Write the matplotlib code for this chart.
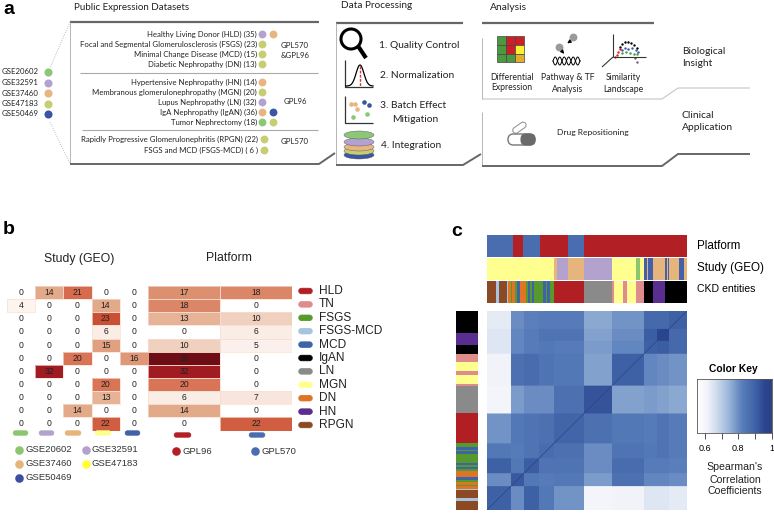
import matplotlib
matplotlib.use('Agg')
import matplotlib.pyplot as plt
import matplotlib.patches as mpatches
from matplotlib.colors import LinearSegmentedColormap, ListedColormap
import numpy as np

W, H = 774, 514

# panel a
gse_ids = ["GSE20602", "GSE32591", "GSE37460", "GSE47183", "GSE50469"]
gse_colors = ["#8cc775", "#b3a2d1", "#e8b47f", "#c6cd72", "#3a55a4"]
group_rows = [
    ("Healthy Living Donor (HLD) (35)", [1, 2]),
    ("Focal and Segmental Glomerulosclerosis (FSGS) (23)", [3]),
    ("Minimal Change Disease (MCD) (15)", [3]),
    ("Diabetic Nephropathy (DN) (13)", [3]),
    ("Hypertensive Nephropathy (HN) (14)", [2]),
    ("Membranous glomerulonephropathy (MGN) (20)", [3]),
    ("Lupus Nephropathy (LN) (32)", [1]),
    ("IgA Nephropathy (IgAN) (36)", [2, 4]),
    ("Tumor Nephrectomy (18)", [0, 3]),
    ("Rapidly Progressive Glomerulonephritis (RPGN) (22)", [3]),
    ("FSGS and MCD (FSGS-MCD) ( 6 )", [3]),
]

# panel b
entities = ["HLD", "TN", "FSGS", "FSGS-MCD", "MCD", "IgAN", "LN", "MGN", "DN", "HN", "RPGN"]
entity_colors = ["#b11f24", "#df8c8c", "#579a2c", "#a6c4e0", "#3f63a8", "#000000",
                 "#8a8a8a", "#ffff8f", "#de7424", "#5a2d91", "#8b4a24"]
study_counts = np.array([
    [0, 14, 21, 0, 0],
    [4, 0, 0, 14, 0],
    [0, 0, 0, 23, 0],
    [0, 0, 0, 6, 0],
    [0, 0, 0, 15, 0],
    [0, 0, 20, 0, 16],
    [0, 32, 0, 0, 0],
    [0, 0, 0, 20, 0],
    [0, 0, 0, 13, 0],
    [0, 0, 14, 0, 0],
    [0, 0, 0, 22, 0],
])
platform_counts = np.array([
    [17, 18], [18, 0], [13, 10], [0, 6], [10, 5], [36, 0],
    [32, 0], [20, 0], [6, 7], [14, 0], [0, 22],
])
study_colors = ["#8cc56f", "#b3a2cd", "#e5b57c", "#feff8e", "#4360a8"]
platforms = ["GPL96", "GPL570"]
platform_colors = ["#b21f24", "#4a6db0"]

# panel c: sample annotations, left to right, as runs of (category, n samples)
platform_run = [1, 0, 1, 0, 1, 0]
platform_n = [26, 10, 17, 28, 16, 103]
study_run = [3, 2, 1, 2, 1, 3, 0, 0, 3, 4, 2, 4, 2, 4, 2, 4, 2, 4, 2]
study_n = [67, 3, 11, 16, 28, 24, 1, 3, 4, 3, 1, 5, 12, 2, 1, 1, 10, 5, 3]
ckd_run = ["RPGN", "FSGS-MCD", "RPGN", "FSGS-MCD", "DN", "FSGS", "DN", "FSGS", "MCD", "DN",
           "FSGS", "MCD", "FSGS", "MCD", "FSGS", "MCD", "FSGS", "MCD", "FSGS", "HLD", "LN",
           "TN", "MGN", "TN", "MGN", "TN", "IgAN", "HN", "IgAN"]
ckd_n = [9, 3, 8, 1, 3, 1, 3, 2, 3, 6, 2, 2, 2, 2, 9, 3, 1, 3, 4, 30, 28, 2, 9, 4, 9, 8, 9, 12, 22]

# sample clusters along the correlation matrix and their mean correlations
cluster_n = [24, 13, 15, 15, 30, 28, 32, 13, 12, 18]
cluster_corr = np.array([
    [.90, .80, .90, .84, .79, .60, .61, .64, .64, .63],
    [.80, .92, .84, .83, .84, .78, .86, .81, .81, .80],
    [.90, .84, .91, .85, .85, .80, .87, .83, .83, .82],
    [.84, .83, .85, .87, .86, .80, .85, .84, .85, .83],
    [.79, .84, .85, .86, .89, .86, .84, .83, .85, .83],
    [.60, .78, .80, .80, .86, .93, .77, .78, .77, .76],
    [.61, .86, .87, .85, .84, .77, .90, .81, .80, .79],
    [.64, .81, .83, .84, .83, .78, .81, .90, .91, .88],
    [.64, .81, .83, .85, .85, .77, .80, .91, .96, .88],
    [.63, .80, .82, .83, .83, .76, .79, .88, .88, .90],
])
key_ticks = [0.6, 0.7, 0.8, 0.9, 1.0]

fig = plt.figure(figsize=(W / 100, H / 100), dpi=100)
ax = fig.add_axes([0, 0, 1, 1])
ax.set_xlim(0, W)
ax.set_ylim(H, 0)
ax.axis("off")
ax.set_zorder(5)


def px_axes(x0, y0, x1, y1):
    a = fig.add_axes([x0 / W, 1 - y1 / H, (x1 - x0) / W, (y1 - y0) / H])
    a.set_xticks([])
    a.set_yticks([])
    for s in a.spines.values():
        s.set_visible(False)
    return a


def label(x, y, s, size=6.0, ha="left", family="Lato", color="#222222", **kw):
    ax.text(x, y, s, fontsize=size, ha=ha, va="center", family=family, color=color, **kw)


def path(xs, ys, color="#666666", lw=1.6, **kw):
    ax.plot(xs, ys, color=color, lw=lw, solid_capstyle="butt", **kw)


def rounded_bar(x0, x1, y, color, h=4.4):
    ax.add_patch(mpatches.FancyBboxPatch((x0 + h / 2, y - h / 2), x1 - x0 - h, h,
                                         boxstyle=f"round,pad=0,rounding_size={h / 2}",
                                         fc=color, ec=color, lw=0.6))


# ---- panel letters
sans = "Liberation Sans"
label(3, 9, "a", size=14, family=sans, color="black", fontweight="bold")
label(3, 230, "b", size=14, family=sans, color="black", fontweight="bold")
label(451, 231, "c", size=14, family=sans, color="black", fontweight="bold")

# ---- panel a, datasets
label(74, 7, "Public Expression Datasets", size=7.0)
for i, (gid, col) in enumerate(zip(gse_ids, gse_colors)):
    y = 72 + i * 10.5
    label(2, y, gid, size=5.6)
    ax.scatter(48, y, s=34, color=col, lw=0)

path([70, 319], [22, 22], lw=1.6)
path([70, 70], [22, 164], color="#b5b5b5", lw=0.7)
path([70, 319, 335], [164, 164, 153], lw=1.4)
path([80, 318], [73, 73], color="#aaaaaa", lw=0.8)
path([82, 318], [130, 130], color="#aaaaaa", lw=0.8)
ax.plot([70, 50], [22, 68], color="#aaaaaa", lw=0.6, ls=":")
ax.plot([50, 70], [122, 164], color="#aaaaaa", lw=0.6, ls=":")

row_y = [34, 44, 54, 64, 82, 92, 102, 112, 122, 139, 150]
for (txt, dots), y in zip(group_rows, row_y):
    right = 258 if y > 130 else 257
    label(right, y, txt, size=5.55, ha="right")
    x0 = 264 if y > 130 else 262
    for k, d in enumerate(dots):
        ax.scatter(x0 + 11 * k, y, s=32, color=gse_colors[d], lw=0)
for y, s in [(46, "GPL570"), (56, "&GPL96"), (102, "GPL96"), (142, "GPL570")]:
    label(295, y, s, size=5.6, ha="center")

# ---- panel a, processing
label(341, 6, "Data Processing", size=7.2)
path([336, 463], [23, 23], lw=1.6)
path([336, 336], [23, 165], color="#b5b5b5", lw=0.7)
path([336, 463, 481], [165, 165, 154], lw=1.4)

label(379, 46, "1. Quality Control", size=7.4)
label(380, 76, "2. Normalization", size=7.4)
label(380, 106, "3. Batch Effect", size=7.4)
label(392, 120, "Mitigation", size=7.4)
label(381, 145, "4. Integration", size=7.4)

# magnifier
ax.add_patch(mpatches.Ellipse((351, 39), 20, 20, fc="none", ec="black", lw=2.2))
path([358, 366], [46, 58], color="black", lw=3)
# bell curve icon
bx = np.linspace(346, 373, 60)
path([344.5, 344.5, 373], [60, 87, 87], color="#333333", lw=0.9)
ax.plot(bx, 86 - 21 * np.exp(-((bx - 360) / 5.5) ** 2), color="black", lw=0.9)
ax.plot([360, 360], [66, 87], color="#d8343a", lw=1, ls=(0, (2, 1)))
# batch effect icon
path([345, 345, 373], [96, 123, 123], color="#333333", lw=0.9)
ax.scatter([351, 355, 357], [104, 104, 109], s=11, color=gse_colors[2], lw=0)
ax.scatter([364, 369], [102, 105], s=11, color=gse_colors[4], lw=0)
ax.scatter([353, 367], [117, 114], s=11, color=gse_colors[0], lw=0)
# stacked discs
for y, c in zip([155, 151, 147, 142, 135], ["#3a55a4", "#c6cd72", "#e8b47f", "#b3a2d1", "#8cc775"]):
    ax.add_patch(mpatches.Ellipse((359, y), 30, 8, fc=c, ec="#555555", lw=0.3))

# ---- panel a, analysis
label(490, 8, "Analysis", size=7.4)
path([482, 654], [23, 23], lw=1.6)
path([482, 482], [38, 99], color="#b5b5b5", lw=0.7)
path([482, 662, 678, 750], [99, 99, 88, 88], color="#c4c4c4", lw=0.8)
path([482, 482], [112, 165], color="#b5b5b5", lw=0.7)
path([482, 662, 678, 750], [166, 166, 154, 154], lw=1.4)

grid_colors = [["#4c9a3f", "#cf1f26", "#cf1f26"],
               ["#4c9a3f", "#cf1f26", "#f8f233"],
               ["#4c9a3f", "#4c9a3f", "#e5ad2c"]]
for r, row in enumerate(grid_colors):
    for c, col in enumerate(row):
        ax.add_patch(mpatches.Rectangle((497 + c * 9, 36 + r * 8.8), 9, 8.8, fc=col, ec="#444444", lw=0.5))

ax.scatter([573, 559], [37, 47], s=32, color="#9a9a9a", lw=0)
ax.annotate("", xy=(565, 45), xytext=(572, 40), arrowprops=dict(arrowstyle="-|>", lw=0.8, color="black", mutation_scale=5))
ax.annotate("", xy=(566, 56), xytext=(561, 50), arrowprops=dict(arrowstyle="-|>", lw=0.8, color="black", mutation_scale=5))
hx = np.linspace(553, 580, 80)
ax.plot(hx, 61 + 4 * np.sin((hx - 553) * 0.7), color="black", lw=0.7)
ax.plot(hx, 61 - 4 * np.sin((hx - 553) * 0.7), color="black", lw=0.7)

path([613, 613], [34, 57], color="#333333", lw=0.8)
path([613, 646], [57, 57], color="#333333", lw=0.8)
path([613, 602], [57, 67], color="#333333", lw=0.8)
ax.scatter([620, 622, 625, 628, 631, 634, 637], [47, 44, 42, 42, 43, 45, 48], s=3, color="black", lw=0)
ax.scatter([622, 625, 628, 632, 636, 638], [50, 48, 49, 48, 50, 52], s=3, color="#3a55a4", lw=0)
ax.scatter([622, 626, 630, 634, 637], [53, 52, 53, 54, 54], s=3, color="#3a9a3f", lw=0)
ax.scatter([615, 617, 618, 620], [57, 55, 52, 49], s=3, color="#d8222a", lw=0)
ax.scatter([635, 637], [58, 62], s=3, color="#666666", lw=0)

label(512, 77, "Differential", size=6.2, ha="center")
label(512, 88, "Expression", size=6.2, ha="center")
label(568, 78, "Pathway & TF", size=6.2, ha="center")
label(568, 89, "Analysis", size=6.2, ha="center")
label(623, 78, "Similarity", size=6.2, ha="center")
label(623, 89, "Landscape", size=6.2, ha="center")
label(682, 51, "Biological", size=7.4)
label(682, 64, "Insight", size=7.4)
label(682, 115, "Clinical", size=7.4)
label(682, 128, "Application", size=7.4)
label(593, 132, "Drug Repositioning", size=6.1, ha="center")

# pill icon
ax.add_patch(mpatches.FancyBboxPatch((512, 125), 15, 6, boxstyle="round,pad=0,rounding_size=3",
                                     fc="white", ec="#999999", lw=0.8,
                                     transform=matplotlib.transforms.Affine2D().rotate_deg_around(519, 128, -35) + ax.transData))
ax.add_patch(mpatches.FancyBboxPatch((508, 134), 27, 11, boxstyle="round,pad=0,rounding_size=5.5",
                                     fc="white", ec="#777777", lw=1))
ax.add_patch(mpatches.FancyBboxPatch((521, 134), 14, 11, boxstyle="round,pad=0,rounding_size=5",
                                     fc="#6a6a6a", ec="#6a6a6a", lw=0.8))

# ---- panel b
heat_cmap = LinearSegmentedColormap.from_list(
    "reds", [(0, "#ffffff"), (0.1, "#fdf5f1"), (0.17, "#faece5"), (0.28, "#f0d0bd"), (0.39, "#e3a988"),
             (0.47, "#dc906f"), (0.58, "#d86d4f"), (0.64, "#ca5035"), (0.89, "#a01c22"), (1, "#6e0e14")])

label(79, 259, "Study (GEO)", size=8.8, ha="center", family=sans)
label(229, 258, "Platform", size=8.8, ha="center", family=sans)

for counts, box in [(study_counts, (7, 286, 148, 430.5)), (platform_counts, (148, 286, 292, 430.5))]:
    a = px_axes(*box)
    a.pcolormesh(counts, cmap=heat_cmap, vmin=0, vmax=36)
    a.invert_yaxis()
    for r in range(counts.shape[0]):
        for c in range(counts.shape[1]):
            # only filled cells get the pale outline, zeros stay plain white
            if counts[r, c] > 0:
                a.add_patch(mpatches.Rectangle((c, r), 1, 1, fc="none", ec="#f8ded2", lw=0.5))
            a.text(c + 0.5, r + 0.5, str(counts[r, c]), ha="center", va="center",
                   fontsize=6.2, family=sans, color="#222222")

for i, (name, col) in enumerate(zip(entities, entity_colors)):
    y = 291 + i * 13.4
    rounded_bar(296, 315, y, col, h=5.5)
    label(319, y, name, size=8.6, family=sans)

study_bar_x = [(11, 30), (37, 56), (63, 83), (93, 113), (123, 142)]
for (x0, x1), col in zip(study_bar_x, study_colors):
    rounded_bar(x0, x1, 433, col)
rounded_bar(172, 193, 435, platform_colors[0])
rounded_bar(247, 267, 435, platform_colors[1])

legend_pos = [(19, 450), (86, 450), (19, 464), (86, 464), (19, 478)]
legend_cols = ["#8cc56f", "#b3a2cd", "#e5b57c", "#ffff33", "#3a4fa4"]
for (x, y), gid, col in zip(legend_pos, gse_ids, legend_cols):
    ax.scatter(x, y, s=38, color=col, lw=0)
    label(x + 6, y, gid, size=6.8, family=sans, color="#333333")
for x, name, col in zip([176, 255], platforms, platform_colors):
    ax.scatter(x, 451, s=38, color=col, lw=0)
    label(x + 6.5, 451, name, size=6.8, family=sans, color="#333333")

# ---- panel c
entity_index = {n: i for i, n in enumerate(entities)}
ckd_codes = np.repeat([entity_index[n] for n in ckd_run], ckd_n)
platform_codes = np.repeat(platform_run, platform_n)
study_codes = np.repeat(study_run, study_n)

strips = [(platform_codes, platform_colors, 235, 257),
          (study_codes, study_colors, 258, 280),
          (ckd_codes, entity_colors, 281, 303)]
for codes, cols, y0, y1 in strips:
    a = px_axes(487, y0, 687, y1)
    a.imshow(codes[None, :], cmap=ListedColormap(cols), vmin=0, vmax=len(cols) - 1,
             aspect="auto", interpolation="nearest")
a = px_axes(456, 311, 478, 510)
a.imshow(ckd_codes[::-1, None], cmap=ListedColormap(entity_colors), vmin=0, vmax=len(entity_colors) - 1,
         aspect="auto", interpolation="nearest")

label(697, 246, "Platform", size=8.4, family=sans, color="black")
label(697, 268, "Study (GEO)", size=8.4, family=sans, color="black")
label(697, 289, "CKD entities", size=7.6, family=sans, color="black")

corr_cmap = LinearSegmentedColormap.from_list(
    "corr", [(0, "#ffffff"), (0.13, "#f2f4fa"), (0.24, "#d5dfef"), (0.42, "#9db7da"), (0.6, "#5a7fbb"),
             (0.78, "#3f62a7"), (0.91, "#2b4590"), (1, "#2f4281")])
member = np.repeat(np.arange(len(cluster_n)), cluster_n)
corr = cluster_corr[np.ix_(member, member)]
np.fill_diagonal(corr, 1.0)
a = px_axes(487, 311, 687, 510)
a.imshow(corr, cmap=corr_cmap, vmin=0.55, vmax=1, origin="lower", aspect="auto", interpolation="bilinear")

label(733, 369, "Color Key", size=7.4, ha="center", family=sans, color="black", fontweight="bold")
a = px_axes(697, 379, 772, 433)
a.imshow(np.linspace(0.55, 1, 150)[None, :], cmap=corr_cmap, vmin=0.55, vmax=1, aspect="auto",
         extent=(0.552, 1.003, 0, 1))
for s in a.spines.values():
    s.set_visible(True)
    s.set_color("#555555")
    s.set_linewidth(0.6)
a.set_xticks(key_ticks)
a.set_xticklabels(["0.6", "", "0.8", "", "1"], fontsize=6.5, family=sans)
a.tick_params(axis="x", length=4, width=0.6, pad=4, color="#333333")

for y, s in zip([467, 480, 491], ["Spearman's", "Correlation", "Coefficients"]):
    label(735, y, s, size=7.6, ha="center", family=sans)

plt.savefig("out.png", dpi=100)
